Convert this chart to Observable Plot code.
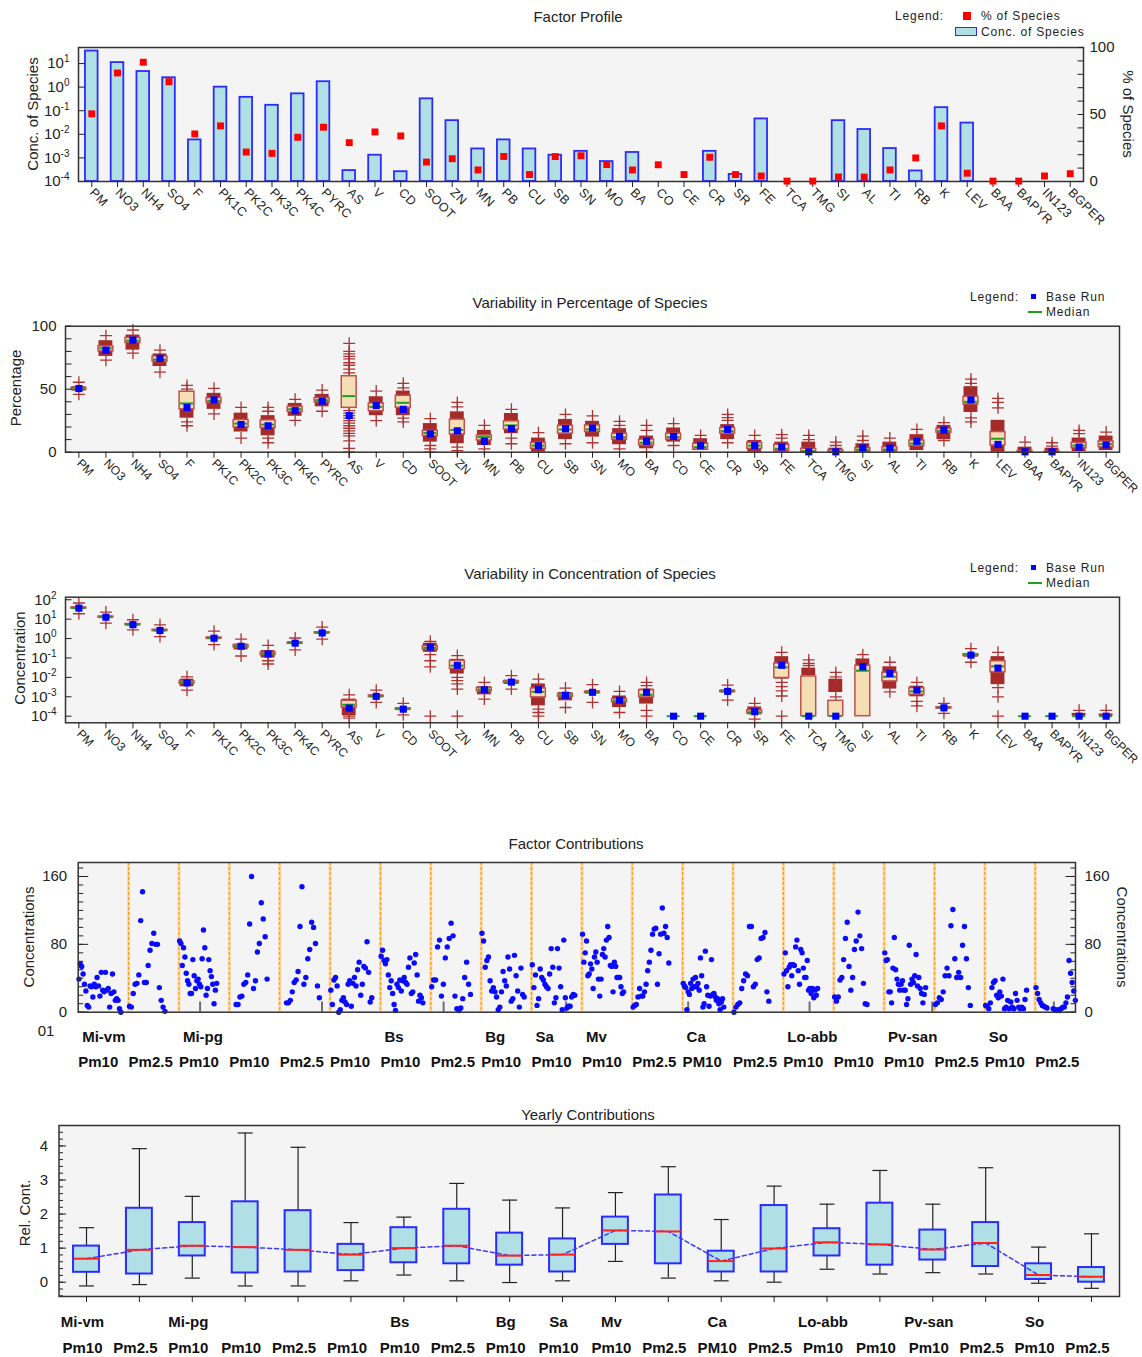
<!DOCTYPE html>
<html>
<head>
<meta charset="utf-8">
<script src="https://cdn.jsdelivr.net/npm/d3@7"></script>
<script src="https://cdn.jsdelivr.net/npm/@observablehq/plot@0.6"></script>
<style>
  body { margin: 0; background: #fff; }
  #chart { position: relative; width: 1142px; height: 1357px; background: #fff; overflow: hidden;
           font-family: "Liberation Sans", Arial, Helvetica, sans-serif; color: #222; }
  #chart svg { position: absolute; left: 0; }
  #profile g[aria-label="x-axis tick label"] text { letter-spacing: 0.5px; }
  .lbl { position: absolute; white-space: nowrap; line-height: 1; }
</style>
</head>
<body>
<div id="chart"></div>
<script>
// ---------------- species (shared by the three profile panels) ----------------
const species = ["PM","NO3","NH4","SO4","F","PK1C","PK2C","PK3C","PK4C","PYRC","AS","V","CD","SOOT","ZN","MN","PB","CU","SB","SN","MO","BA","CO","CE","CR","SR","FE","TCA","TMG","SI","AL","TI","RB","K","LEV","BAA","BAPYR","IN123","BGPER"];

// Factor profile: concentration of species (0 = below the plotted range)
const profileConc = [34, 11, 4.6, 2.5, 0.0058, 1.0, 0.37, 0.17, 0.52, 1.7, 0.00029, 0.0013, 0.00026, 0.32, 0.038, 0.0024, 0.0058, 0.0024, 0.0013, 0.0019, 0.0007, 0.0017, 0, 0, 0.0019, 0.0002, 0.045, 0, 0, 0.038, 0.016, 0.0025, 0.00028, 0.135, 0.03, 0, 0, 0, 0];
// % of species (base run)
const pctSpecies = [50.5, 81, 89, 74.5, 35.5, 41.5, 22, 21, 33, 40.5, 29, 37, 34, 14.5, 17, 8.6, 18.7, 5.2, 18.6, 19.2, 12.6, 8.6, 12.5, 5.2, 18.1, 5.2, 4.1, 0.3, 0.3, 3.4, 3.3, 8.6, 17.6, 41.5, 6.2, 0.3, 0.3, 4.1, 5.8];

// Variability in percentage of species (bootstrap boxes, dense run range, single runs)
const pctQ1  = [49.5, 80, 86.7, 72, 34, 39, 19.7, 19.2, 32, 39.5, 35.2, 32.5, 35.2, 12.8, 14.1, 9.3, 18, 2.7, 14.7, 16, 10, 5.3, 10, 2.1, 14.7, 2.7, 1, 0, 0, 0.5, 0.8, 4.8, 15.5, 37.9, 5.3, 0, 0, 3.2, 4];
const pctMed = [50, 82.4, 88.5, 73.6, 38.7, 40.8, 22.7, 21.9, 34.1, 41.3, 44.5, 36, 39.2, 15.2, 17.6, 12, 21.3, 5.3, 18, 18.1, 12, 7.5, 12, 4, 16.8, 5.3, 2.7, 0.8, 0.3, 1.9, 2.1, 6.9, 17, 40, 10.7, 0.2, 0.1, 5.3, 6.4];
const pctQ3  = [51, 84, 90.7, 76, 48, 43, 25.6, 25.3, 36, 43, 60.3, 38.7, 44.8, 17, 25.9, 13.3, 24.5, 7.5, 21, 21.3, 14.7, 10, 14.7, 6.7, 19.2, 7.5, 5.9, 2.7, 1.5, 3.2, 4, 9.3, 18.7, 44, 16, 1, 0.5, 7.5, 8.5];
const pctLo  = [48.5, 76, 81, 68, 27, 34, 16, 13, 28.5, 36, null, 29, 29, 8, 6.7, 5.3, 14.7, 0, 10, 12, 5.9, 2.7, 8, 1.3, 10, 0, 0, 0, 0, 0, 0, 1.3, 10, 31.5, 0, 0, 0, 0.5, 1.3];
const pctHi  = [52, 88.5, 93, 78, 47.5, 46.7, 31, 29, 38.7, 45.9, null, 44, 48.5, 22.7, 32, 17.3, 30.7, 11.2, 26, 24.5, 18.7, 12.8, 19.2, 10.7, 21.9, 9.3, 8, 8, 3.2, 6.7, 8, 13.9, 21.3, 52, 25.3, 4, 3.2, 11.2, 12.8];
const pctRuns = [
  [55.5, 45.9], [92.5, 73], [97, 78.7], [81, 63.5], [53, 50, 24, 21], [50.7, 30.4], [35.5, 11.2], [35.5, 32.5, 11.2, 7.5], [42, 25.3], [49.3, 32.5],
  [86.4, 80, 78, 76, 74, 71, 69, 66, 63, 33, 31, 29, 27, 25, 23, 21, 19, 17, 15, 13, 9, 3, 0],
  [48.5, 25], [54.7, 51, 27, 24], [26.7, 5.3, 2.7, 0], [39.5, 36, 4, 1.3], [21.3, 2.7], [34, 11.2, 6.7], [15.5], [30, 6.7], [28.8, 7.5],
  [24.5, 21.3, 2.7], [21.3, 17.3, 0], [22.7, 5.3], [13.3], [30, 27.5, 25.3, 7.5], [13.3], [13.9, 11.2], [13.3, 10], [8, 5.3], [12.8, 9.3],
  [11.2], [18.1], [23.5, 9.3], [58, 54.7, 27.2, 24], [42.7, 39.5, 35.2], [8], [7.5, 4.8], [17.3, 14.7], [16]
];

// Variability in concentration of species
const concBase = [37, 12.6, 5.2, 2.6, 5.2e-3, 1.04, 0.4, 0.16, 0.58, 1.95, 2.6e-4, 1.05e-3, 2.3e-4, 0.36, 0.042, 2.3e-3, 5.7e-3, 2.3e-3, 1.2e-3, 1.7e-3, 6.7e-4, 1.7e-3, 1e-4, 1e-4, 1.9e-3, 1.7e-4, 0.042, 1e-4, 1e-4, 0.035, 0.016, 2.2e-3, 2.7e-4, 0.14, 0.03, 1e-4, 1e-4, 1e-4, 1e-4];
const concMed  = [37, 12.6, 5.2, 2.6, 5.5e-3, 1.04, 0.41, 0.165, 0.58, 1.95, 3.9e-4, 1.05e-3, 2.3e-4, 0.33, 0.04, 2.4e-3, 5.7e-3, 1.8e-3, 1.2e-3, 1.7e-3, 6.3e-4, 1.26e-3, 1e-4, 1e-4, 1.9e-3, 1.6e-4, 0.033, 1e-4, 1e-4, 0.022, 0.0107, 1.9e-3, 2.7e-4, 0.14, 0.037, 1e-4, 1e-4, 1e-4, 1e-4];
const concQ1   = [35, 12, 4.9, 2.45, 4.8e-3, 0.97, 0.35, 0.14, 0.54, 1.85, 2.8e-4, 9.8e-4, 2.15e-4, 0.26, 0.027, 1.9e-3, 5.1e-3, 9.3e-4, 1.0e-3, 1.55e-3, 5.2e-4, 9.3e-4, null, null, 1.75e-3, 1.4e-4, 9.3e-3, 1e-4, 1e-4, 1e-4, 6.2e-3, 1.26e-3, 2.5e-4, 0.125, 0.018, null, null, null, null];
const concQ3   = [40, 13.5, 5.6, 2.8, 6.2e-3, 1.12, 0.46, 0.19, 0.62, 2.1, 6.3e-4, 1.15e-3, 2.5e-4, 0.41, 0.072, 2.9e-3, 6.4e-3, 2.7e-3, 1.4e-3, 1.85e-3, 7.6e-4, 2.2e-3, null, null, 2.05e-3, 2.0e-4, 0.052, 0.0112, 6.2e-4, 0.04, 0.0174, 2.8e-3, 2.9e-4, 0.155, 0.068, null, null, null, null];
const concLo   = [33, 11, 4.5, 2.3, 3.3e-3, 0.9, 0.26, 0.1, 0.5, 1.75, 1.05e-4, 9e-4, 2e-4, 0.195, 0.0148, 1.26e-3, 4.3e-3, 3.4e-4, 6.2e-4, 1.4e-3, 2.8e-4, 4.2e-4, null, null, 1.6e-3, 1.17e-4, 8.1e-3, 0.0123, 1.66e-3, 0.035, 2.5e-3, 1e-3, 2.3e-4, 0.11, 4.2e-3, null, null, 1e-4, 1e-4];
const concHi   = [42, 14.5, 6, 3, 8.1e-3, 1.2, 0.52, 0.24, 0.68, 2.2, 7.6e-4, 1.25e-3, 2.7e-4, 0.58, 0.085, 3.3e-3, 7.2e-3, 4.6e-3, 1.66e-3, 2.0e-3, 1.1e-3, 2.5e-3, null, null, 2.2e-3, 3e-4, 0.117, 0.03, 8.1e-3, 0.089, 0.035, 3.5e-3, 3.1e-4, 0.17, 0.117, null, null, 1.4e-4, 1.3e-4];
const concRuns = [
  [68, 19], [23, 6.2], [9.3, 2.8], [5.1, 1.26], [1.07e-2, 2.2e-3], [2.4, 0.49], [0.93, 0.126], [0.44, 0.072, 0.049], [1.07, 0.26], [3.9, 0.93],
  [1.26e-3, 1e-4, 8e-5], [2.2e-3, 5.1e-4], [4.6e-4, 1.17e-4], [0.72, 0.148, 0.072, 0.035, 1e-4], [0.132, 0.01, 0.0068, 0.0046, 0.0025, 1e-4],
  [5.5e-3, 7.6e-4], [1.23e-2, 2.5e-3], [8.1e-3, 2.3e-4, 1.55e-4, 1e-4], [2.8e-3, 2.8e-4], [4.2e-3, 5.1e-4], [1.9e-3, 1.55e-4], [5.5e-3, 3.8e-3, 2e-4, 1e-4],
  [], [], [4e-3, 6.8e-4], [4.6e-4, 7e-5], [0.195, 0.0055, 0.0033, 0.002, 0.0011, 1e-4], [0.079, 0.052, 0.04], [0.018, 0.0107, 1e-3], [0.148], [0.06, 0.0018],
  [5.5e-3, 5.8e-4, 3.4e-4], [4.6e-4, 1.4e-4], [0.3, 0.06], [0.195, 0.003, 1e-3, 1e-4], [], [], [2e-4], [2e-4]
];

// ---------------- sampling campaigns (factor and yearly contributions) ----------------
const siteNames   = ["Mi-vm","","Mi-pg","","","","Bs","","Bg","Sa","Mv","","Ca","","Lo-abb","","Pv-san","","So",""];
const sampleTypes = ["Pm10","Pm2.5","Pm10","Pm10","Pm2.5","Pm10","Pm10","Pm2.5","Pm10","Pm10","Pm10","Pm2.5","PM10","Pm2.5","Pm10","Pm10","Pm10","Pm2.5","Pm10","Pm2.5"];

// Daily factor contributions per campaign (null = no sample that day)
const contrib01 = [39,57,54,45,33,25,8,6,31,30,18,33,30,41,31,19,47,26,24,47,26,28,6,22,45,24,14,16,14,4,0,null,null,null,null,null];
const contrib02 = [7,6,22,33,34,44,108,142,35,35,55,73,81,93,80,80,29,14,6,1,null,null,null,null,null,null,null];
const contrib03 = [84,81,55,76,65,46,37,33,22,22,62,43,28,37,39,33,30,63,97,76,20,28,62,49,42,33,10,26,34,null,null,null,null,null,null,null,null,null];
const contrib04 = [null,null,null,9,9,18,19,33,35,44,104,160,28,37,71,81,129,110,89,39,null,null,null,null,null,null];
const contrib05 = [null,null,null,11,11,14,24,35,38,48,101,148,33,41,63,74,106,100,81,31,17,null,null,null,null,null];
const contrib06 = [26,9,38,41,31,0,3,14,17,12,9,33,37,7,34,41,31,50,59,20,33,54,52,83,47,12,17,null,null,null,null,null];
const contrib07 = [66,73,61,57,62,44,29,37,22,9,2,33,29,38,25,37,41,35,33,53,64,22,24,58,68,44,13,20,17,11,null,null,null,null,null];
const contrib08 = [30,38,38,77,85,19,33,64,77,87,105,90,19,4,2,5,16,41,59,33,21,null,null,null,null,null];
const contrib09 = [93,84,53,61,65,37,25,29,24,18,3,6,24,48,37,31,65,51,13,16,67,43,25,6,52,21,18,null,null,null,null];
const contrib10 = [56,29,44,8,16,51,41,38,33,30,28,45,75,53,11,17,75,52,30,3,85,17,5,7,7,18,21,20,null,null,null,null];
const contrib11 = [92,59,70,84,43,45,57,51,28,65,71,59,39,19,39,68,75,65,85,101,88,55,54,24,59,54,41,41,41,30,22,24,null,null,null,null,null,null];
const contrib12 = [6,8,9,18,28,19,19,24,33,49,59,73,92,98,99,33,69,92,123,93,101,88,58,null,null,null,null,null,null,null,null];
const contrib13 = [34,31,29,3,24,21,34,28,39,30,41,30,34,26,64,43,6,10,72,30,20,7,19,62,21,22,18,14,16,10,3,12,16,6,null,null,null,null,null,null,null];
const contrib14 = [0,6,9,11,28,37,45,43,101,101,30,33,62,64,87,88,94,24,13,null,null,null,null,null,null,null];
const contrib15 = [45,70,49,30,53,56,43,56,55,77,85,49,33,74,70,52,41,41,61,26,28,22,28,17,26,20,28,null,null,null,null,null,null,null,null,null,null,null,null];
const contrib16 = [18,13,18,38,41,62,87,106,54,26,41,74,84,118,90,75,34,10,9,null,null,null,null,null,null,null,null,null];
const contrib17 = [70,61,62,24,24,11,52,88,50,39,33,26,33,37,26,26,9,16,79,33,39,35,43,68,31,41,28,22,11,21,29,null,null,null,null,null,null];
const contrib18 = [9,11,17,15,24,43,52,43,102,121,63,41,47,41,79,101,63,29,8,null,null,null,null,null,null,null];
const contrib19 = [8,7,4,11,29,35,37,20,17,24,19,39,4,6,14,4,12,6,4,22,14,6,4,6,4,15,26,null,null,null,null,null];
const contrib20 = [29,22,15,11,8,7,6,5,null,null,null,4,3,2,3,2,4,6,6,11,18,61,46,35,25,14,null,null,null,null,null,null];
// Year changes along the campaign axis (in campaign units)
const yearTicks = [2.42, 4.84, 7.255, 9.686, 12.11, 14.52, 16.955, 19.37];

// Yearly contributions (relative): whisker low, quartiles, median, whisker high
const yearLow  = [-0.11, -0.07, 0.12, -0.11, -0.11, 0.04, 0.21, 0.04, -0.01, 0.04, 0.61, 0.12, 0.04, 0, 0.38, 0.24, 0.28, 0.24, -0.03, -0.18];
const yearQ1   = [0.29, 0.24, 0.77, 0.27, 0.3, 0.34, 0.57, 0.54, 0.5, 0.3, 1.11, 0.54, 0.3, 0.3, 0.77, 0.5, 0.65, 0.46, 0.08, 0];
const yearMed  = [0.69, 0.95, 1.07, 1.03, 0.95, 0.81, 1.0, 1.07, 0.78, 0.81, 1.52, 1.49, 0.62, 0.99, 1.17, 1.11, 0.96, 1.15, 0.21, 0.16];
const yearQ3   = [1.06, 2.17, 1.75, 2.36, 2.1, 1.11, 1.6, 2.14, 1.44, 1.27, 1.91, 2.56, 0.91, 2.25, 1.57, 2.32, 1.53, 1.75, 0.54, 0.43];
const yearHigh = [1.6, 3.92, 2.52, 4.38, 3.96, 1.75, 1.91, 2.9, 2.41, 2.18, 2.63, 3.39, 1.84, 2.82, 2.29, 3.28, 2.29, 3.36, 1.03, 1.42];

// ---------------- drawing helpers ----------------
const W = 1142;
const FONT = '"Liberation Sans", Arial, Helvetica, sans-serif';
const INK = "#222";
const PANEL = "#f4f4f4";
const FRAME = "#333";
const chart = document.getElementById("chart");
const baseStyle = {fontFamily: FONT, fontSize: "15px", color: INK, background: "transparent", overflow: "visible"};

function place(svg, top) {
  svg.style.position = "absolute";
  svg.style.left = "0px";
  svg.style.top = top + "px";
  chart.appendChild(svg);
  return svg;
}

function label(text, x, y, o = {}) {
  const d = document.createElement("div");
  d.className = "lbl";
  d.textContent = text;
  d.style.left = x + "px";
  d.style.top = y + "px";
  d.style.fontSize = (o.size || 15) + "px";
  if (o.weight) d.style.fontWeight = o.weight;
  if (o.spacing) d.style.letterSpacing = o.spacing + "px";
  const tx = o.anchor === "start" ? "0" : o.anchor === "end" ? "-100%" : "-50%";
  d.style.transform = `translate(${tx},-50%)` + (o.rotate ? ` rotate(${o.rotate}deg)` : "");
  chart.appendChild(d);
  return d;
}

function swatch(x, y, w, h, css) {
  const d = document.createElement("div");
  d.style.position = "absolute";
  d.style.left = x + "px"; d.style.top = y + "px";
  d.style.width = w + "px"; d.style.height = h + "px";
  d.style.boxSizing = "border-box";
  Object.assign(d.style, css);
  chart.appendChild(d);
}

// custom symbols: "+" run markers, horizontal caps, and inward axis ticks
const plusSym = {draw(ctx, size) { const r = Math.sqrt(size / Math.PI); ctx.moveTo(-r, 0); ctx.lineTo(r, 0); ctx.moveTo(0, -r); ctx.lineTo(0, r); }};
const hlineSym = {draw(ctx, size) { const r = Math.sqrt(size / Math.PI); ctx.moveTo(-r, 0); ctx.lineTo(r, 0); }};
const tickIn = dir => ({draw(ctx, size) { const r = Math.sqrt(size / Math.PI); ctx.moveTo(0, 0); ctx.lineTo(dir * r, 0); }});
function yTicks(values, side, len) {
  return Plot.dot(values, {y: d => d, frameAnchor: side, symbol: tickIn(side === "left" ? 1 : -1), r: len, stroke: INK, strokeWidth: 1, fill: "none"});
}

// turn "10^e" tick labels into a base with a raised exponent
const expFmt = d => "10^" + Math.round(Math.log10(d));
function superscriptTicks(svg) {
  svg.querySelectorAll("text").forEach(t => {
    const m = /^10\^(-?\d+)$/.exec(t.textContent);
    if (!m) return;
    t.textContent = "10";
    const ts = document.createElementNS("http://www.w3.org/2000/svg", "tspan");
    ts.setAttribute("dy", "-0.6em");
    ts.setAttribute("font-size", "10");
    ts.textContent = m[1];
    t.appendChild(ts);
  });
}

// ================= 1. Factor Profile =================
const p1rows = species.map((s, i) => ({s, conc: profileConc[i], pct: pctSpecies[i]}));
const band1 = {type: "band", domain: species, paddingInner: 0.51, paddingOuter: 0.27, round: false, label: null};
const decades1 = [1e-4, 1e-3, 1e-2, 1e-1, 1, 10];
const dims1 = {width: W, height: 200, marginTop: 7, marginBottom: 59, marginLeft: 78, marginRight: 59};

const p1a = Plot.plot({
  ...dims1, style: baseStyle,
  x: band1,
  y: {type: "log", domain: [1e-4, 48], label: null},
  marks: [
    Plot.frame({fill: PANEL, stroke: "none"}),
    Plot.barY(p1rows.filter(d => d.conc > 0), {x: "s", y1: 1e-4, y2: "conc", fill: "#b0e0e6", stroke: "#2b2bff", strokeWidth: 1.8}),
    yTicks(decades1, "left", 6),
    Plot.frame({stroke: FRAME, strokeWidth: 1.5}),
    Plot.axisX({tickRotate: 45, tickSize: 6, tickPadding: 3, fontSize: 12.5, label: null}),
    Plot.axisY({ticks: decades1, tickFormat: expFmt, tickSize: 0, tickPadding: 9, label: null})
  ]
});
superscriptTicks(p1a);
p1a.id = "profile";
place(p1a, 40);

const p1b = Plot.plot({
  ...dims1, style: baseStyle,
  x: {...band1, axis: null},
  y: {domain: [0, 100], label: null},
  marks: [
    yTicks(d3.range(0, 101, 10), "right", 6),
    Plot.dot(p1rows, {x: "s", y: "pct", symbol: "square", r: 3.9, fill: "#ff0000", stroke: "none"}),
    Plot.axisY({anchor: "right", ticks: [0, 50, 100], tickSize: 0, tickPadding: 6, label: null})
  ]
});
place(p1b, 40);

label("Factor Profile", 578, 16);
label("Legend:", 895, 16, {anchor: "start", size: 12, spacing: 0.8});
swatch(963, 12, 8, 8, {background: "#ff0000"});
label("% of Species", 981, 16, {anchor: "start", size: 12, spacing: 0.8});
swatch(955, 27, 22, 9, {background: "#b0e0e6", border: "1.5px solid #2b2bff"});
label("Conc. of Species", 981, 32, {anchor: "start", size: 12, spacing: 0.8});
label("Conc. of Species", 32, 114, {rotate: -90});
label("% of Species", 1128, 114, {rotate: 90});

// ================= shared drawing of the variability panels =================
const band2 = {type: "band", domain: species, paddingInner: 0.45, paddingOuter: 0.22, round: false, label: null};
const dimsV = {width: W, marginLeft: 65, marginRight: 23};

function variabilityMarks(rows, runs) {
  return [
    Plot.frame({fill: PANEL, stroke: "none"}),
    Plot.barY(rows.filter(d => d.lo != null), {x: "s", y1: "lo", y2: "hi", fill: "#a52a2a", insetLeft: 0.5, insetRight: 0.5}),
    Plot.dot(runs, {x: "s", y: "v", symbol: plusSym, r: 6, stroke: "#ae3434", strokeWidth: 1.3, fill: "none"}),
    Plot.barY(rows.filter(d => d.q1 != null), {x: "s", y1: "q1", y2: "q3", fill: "#f5deb3", stroke: "#c0504d", strokeWidth: 1.5}),
    Plot.tickY(rows, {x: "s", y: "med", stroke: "#1f9e1f", strokeWidth: 2, insetLeft: 1, insetRight: 1}),
    Plot.dot(rows, {x: "s", y: "base", symbol: "square", r: 4, fill: "#0000ff", stroke: "none"}),
    Plot.frame({stroke: FRAME, strokeWidth: 1.5}),
    Plot.axisX({tickRotate: 45, tickSize: 6, tickPadding: 3, fontSize: 12, label: null})
  ];
}

function variabilityLegend(y1, y2) {
  label("Legend:", 970, y1, {anchor: "start", size: 12, spacing: 0.8});
  swatch(1031, y1 - 3, 5, 5, {background: "#0000ff"});
  label("Base Run", 1046, y1, {anchor: "start", size: 12, spacing: 0.8});
  swatch(1028, y2 - 1, 14, 2, {background: "#1f9e1f"});
  label("Median", 1046, y2, {anchor: "start", size: 12, spacing: 0.8});
}

// ================= 2. Variability in Percentage of Species =================
const p2rows = species.map((s, i) => ({s, base: pctSpecies[i], q1: pctQ1[i], med: pctMed[i], q3: pctQ3[i], lo: pctLo[i], hi: pctHi[i]}));
const p2runs = species.flatMap((s, i) => pctRuns[i].map(v => ({s, v})));
const p2 = Plot.plot({
  ...dimsV, height: 195, marginTop: 10.7, marginBottom: 58.3, style: baseStyle,
  x: band2,
  y: {domain: [0, 100], label: null},
  marks: [
    ...variabilityMarks(p2rows, p2runs),
    yTicks(d3.range(0, 101, 10), "left", 6),
    Plot.axisY({ticks: [0, 50, 100], tickSize: 0, tickPadding: 9, label: null})
  ]
});
place(p2, 315);
label("Variability in Percentage of Species", 590, 302);
variabilityLegend(297, 312);
label("Percentage", 15, 388, {rotate: -90});

// ================= 3. Variability in Concentration of Species =================
const decades3 = [1e-4, 1e-3, 1e-2, 1e-1, 1, 10, 100];
const p3rows = species.map((s, i) => ({s, base: concBase[i], q1: concQ1[i], med: concMed[i], q3: concQ3[i], lo: concLo[i], hi: concHi[i]}));
const p3runs = species.flatMap((s, i) => concRuns[i].map(v => ({s, v})));
const p3 = Plot.plot({
  ...dimsV, height: 190, marginTop: 11.7, marginBottom: 52.7, style: baseStyle,
  x: band2,
  y: {type: "log", domain: [4.57e-5, 135], label: null},
  marks: [
    ...variabilityMarks(p3rows, p3runs),
    yTicks(decades3, "left", 6),
    Plot.axisY({ticks: decades3, tickFormat: expFmt, tickSize: 0, tickPadding: 9, label: null})
  ]
});
superscriptTicks(p3);
place(p3, 585);
label("Variability in Concentration of Species", 590, 573);
variabilityLegend(568, 583);
label("Concentration", 19, 658, {rotate: -90});

// ================= 4. Factor Contributions =================
const campaigns = [contrib01, contrib02, contrib03, contrib04, contrib05, contrib06, contrib07, contrib08, contrib09, contrib10,
                   contrib11, contrib12, contrib13, contrib14, contrib15, contrib16, contrib17, contrib18, contrib19, contrib20];
const p4rows = campaigns.flatMap((arr, k) => arr.map((v, i) => ({x: k + (i + 0.5) / arr.length, v})).filter(d => d.v != null));
const siteRows = siteNames.map((name, k) => ({k, name})).filter(d => d.name);
const typeRows = sampleTypes.map((t, k) => ({k, t}));
const p4 = Plot.plot({
  width: W, height: 225, marginTop: 12, marginBottom: 63.3, marginLeft: 77.7, marginRight: 67, style: baseStyle,
  x: {domain: [0, 19.8], axis: null},
  y: {domain: [0, 176.5], label: null},
  marks: [
    Plot.frame({fill: PANEL, stroke: "none"}),
    Plot.ruleX(d3.range(1, 20), {stroke: "#ffd9a0", strokeWidth: 3}),
    Plot.ruleX(d3.range(1, 20), {stroke: "#ff9a10", strokeWidth: 1.2, strokeDasharray: "3,2"}),
    Plot.ruleX(yearTicks, {y1: 0, y2: 12, stroke: "#6f6f6f", strokeWidth: 2}),
    Plot.dot(p4rows, {x: "x", y: "v", r: 2.7, fill: "#0a0aff", stroke: "none"}),
    yTicks(d3.range(0, 171, 10), "left", 5),
    yTicks([0, 80, 160], "left", 10),
    yTicks(d3.range(0, 171, 10), "right", 5),
    yTicks([0, 80, 160], "right", 10),
    Plot.frame({stroke: FRAME, strokeWidth: 1.5}),
    Plot.axisY({ticks: [0, 80, 160], tickSize: 0, tickPadding: 11, label: null}),
    Plot.axisY({anchor: "right", ticks: [0, 80, 160], tickSize: 0, tickPadding: 9, label: null}),
    Plot.text(siteRows, {x: "k", text: "name", frameAnchor: "bottom", dy: 30, dx: 4, textAnchor: "start", fontWeight: "bold", fontSize: 15, fill: "#111"}),
    Plot.text(typeRows, {x: "k", text: "t", frameAnchor: "bottom", dy: 55, dx: 0, textAnchor: "start", fontWeight: "bold", fontSize: 15, fill: "#111"})
  ]
});
place(p4, 850);
label("Factor Contributions", 576, 843);
label("Concentrations", 28, 937, {rotate: -90});
label("Concentrations", 1122, 937, {rotate: 90});
label("01", 46, 1030);

// ================= 5. Yearly Contributions =================
const p5rows = yearMed.map((m, i) => ({i, lo: yearLow[i], q1: yearQ1[i], med: m, q3: yearQ3[i], hi: yearHigh[i]}));
const p5 = Plot.plot({
  width: W, height: 239, marginTop: 7, marginBottom: 61, marginLeft: 58.5, marginRight: 23, style: baseStyle,
  x: {domain: [-0.52, 19.53], label: null},
  y: {domain: [-0.42, 4.6], label: null},
  marks: [
    Plot.frame({fill: PANEL, stroke: "none"}),
    Plot.ruleX(p5rows, {x: "i", y1: "lo", y2: "hi", stroke: INK, strokeWidth: 1.2}),
    Plot.dot(p5rows, {x: "i", y: "hi", symbol: hlineSym, r: 7.5, stroke: INK, strokeWidth: 1.2, fill: "none"}),
    Plot.dot(p5rows, {x: "i", y: "lo", symbol: hlineSym, r: 7.5, stroke: INK, strokeWidth: 1.2, fill: "none"}),
    Plot.rect(p5rows, {x1: d => d.i - 0.245, x2: d => d.i + 0.245, y1: "q1", y2: "q3", fill: "#b0e0e6", stroke: "#2b2bff", strokeWidth: 2}),
    Plot.line(p5rows, {x: "i", y: "med", stroke: "#3a3aff", strokeWidth: 1.5, strokeDasharray: "4,3"}),
    Plot.dot(p5rows, {x: "i", y: "med", symbol: hlineSym, r: 13, stroke: "#ff2020", strokeWidth: 2, fill: "none"}),
    yTicks(d3.range(-4, 47, 2).map(v => v / 10), "left", 4),
    yTicks([0, 1, 2, 3, 4], "left", 7),
    Plot.frame({stroke: FRAME, strokeWidth: 1.5}),
    Plot.axisX({ticks: d3.range(20), tickFormat: () => "", tickSize: 6, label: null}),
    Plot.axisY({ticks: [0, 1, 2, 3, 4], tickFormat: d => String(d), tickSize: 0, tickPadding: 11, label: null}),
    Plot.text(siteRows, {x: "k", text: "name", frameAnchor: "bottom", dy: 30, dx: -4, fontWeight: "bold", fontSize: 15, fill: "#111"}),
    Plot.text(typeRows, {x: "k", text: "t", frameAnchor: "bottom", dy: 56, dx: -4, fontWeight: "bold", fontSize: 15, fill: "#111"})
  ]
});
place(p5, 1118);
label("Yearly Contributions", 588, 1114);
label("Rel. Cont.", 24, 1213, {rotate: -90});
</script>
</body>
</html>
